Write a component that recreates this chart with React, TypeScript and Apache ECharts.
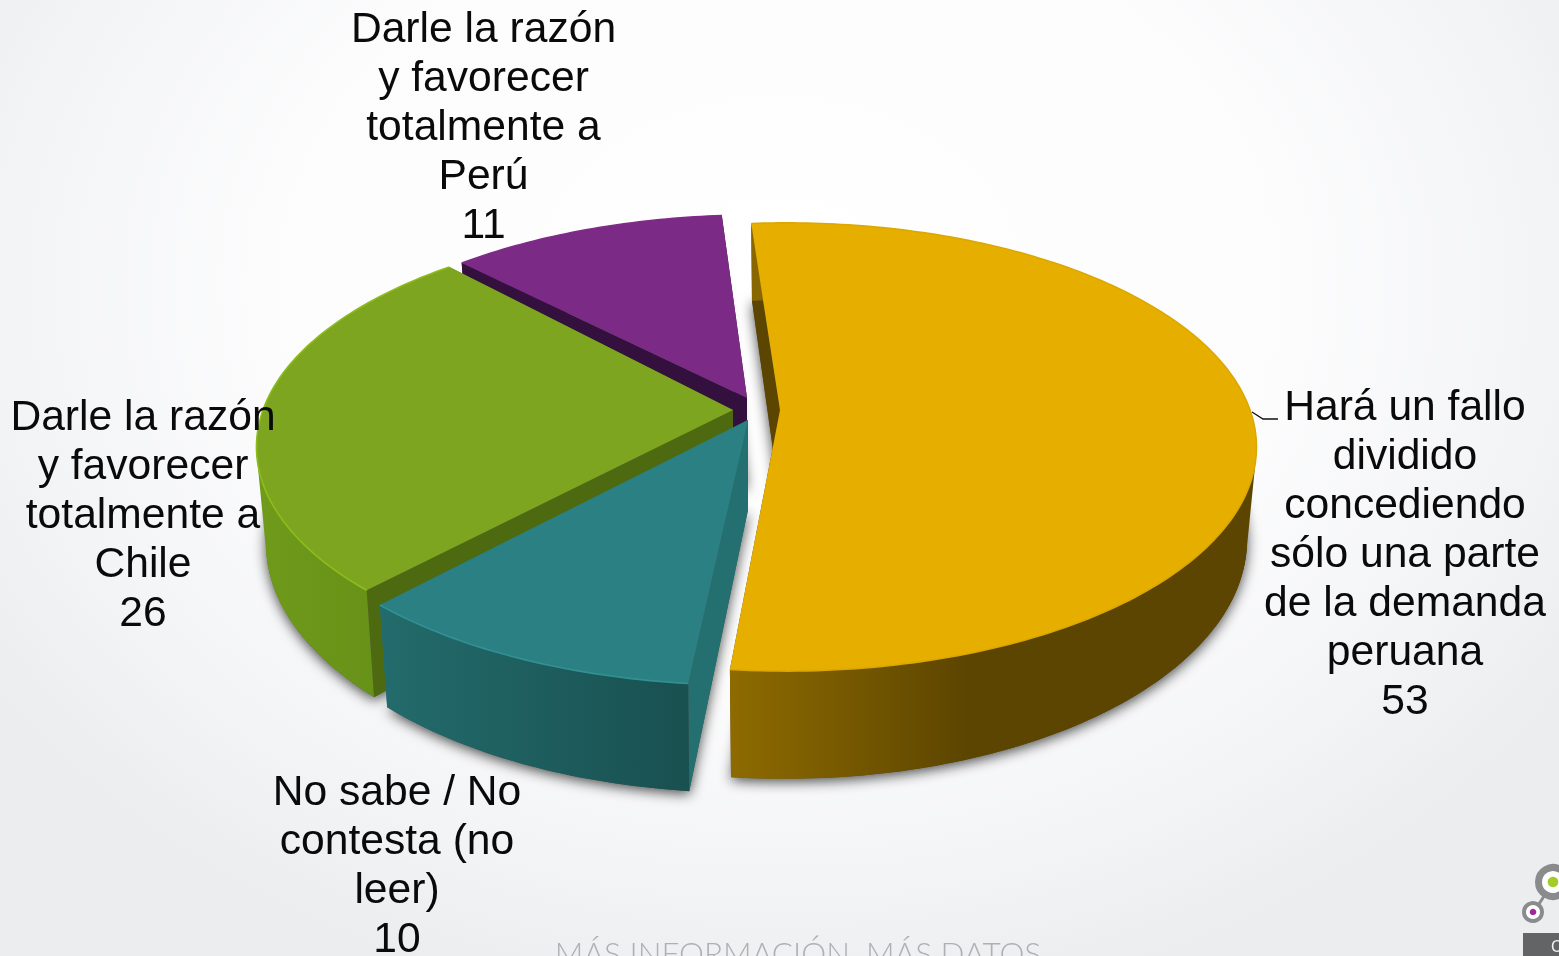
import React, { useEffect, useRef } from "react";
import * as echarts from "echarts";

const categories = [
  "Hará un fallo\ndividido\nconcediendo\nsólo una parte\nde la demanda\nperuana",
  "No sabe / No\ncontesta (no\nleer)",
  "Darle la razón\ny favorecer\ntotalmente a\nChile",
  "Darle la razón\ny favorecer\ntotalmente a\nPerú",
];
const values = [53, 10, 26, 11];
const topColors = ["#E6AF00", "#2A8082", "#7DA51F", "#7B2A85"];
const rimColors = ["#DCA800", "#329192", "#8CBD1C", "#7F2C89"];
const cutColors = ["#5C4500", "#246F70", "#4E6A10", "#33103E"];
const sideColors = ["#5C4500", "#236B6C", "#6F9A1A", "#33103E"];
const wallStops = [
  [[0, "#8E6B00"], [0.45, "#5C4500"], [1, "#5C4500"]],
  [[0, "#236B6C"], [1, "#195050"]],
  [[0, "#6F9A1A"], [1, "#628C17"]],
  [[0, "#33103E"], [1, "#33103E"]],
];
const apexX = [780, 748, 733, 747];
const apexY = [410, 420, 410, 398];
const arcX = [786, 745, 733, 757];
const arcY = [410, 424, 410, 402];
const radii = [464, 470, 470, 470];
const depths = [90, 90, 94, 90];
const startNudge = [0, 0, 1.5, 0];
const endNudge = [0, 1.3, 2, 0];
const labelX = [1405, 397, 143, 483.5];
const labelTop = [380, 765, 390, 2];
const drawOrder = [3, 2, 1, 0];

const START_DEG = -5;
const RY = 218;
const P = 0.165;
const BOTTOM_SCALE = 0.98;
const FONT = "'Liberation Sans', Arial, sans-serif";

const total = values.reduce((a, b) => a + b, 0);
const angleRange = (i: number): [number, number] => {
  let sum = 0;
  for (let k = 0; k < i; k++) sum += values[k];
  const a0 = START_DEG + (sum / total) * 360;
  return [a0 + startNudge[i], a0 + (values[i] / total) * 360 + endNudge[i]];
};

const project = (i: number, deg: number, bottom: boolean): number[] => {
  const t = (deg * Math.PI) / 180;
  const w = 1 + P * Math.cos(t);
  let sx = (radii[i] * Math.sin(t)) / w;
  let sy = (-RY * Math.cos(t)) / w;
  if (bottom) {
    sx *= BOTTOM_SCALE;
    sy += depths[i] / w;
  }
  return [arcX[i] + sx, arcY[i] + sy];
};
const apex = (i: number, bottom: boolean): number[] => [apexX[i], apexY[i] + (bottom ? depths[i] : 0)];
const arc = (i: number, a0: number, a1: number, bottom: boolean): number[][] => {
  const n = Math.max(1, Math.ceil(a1 - a0));
  const pts: number[][] = [];
  for (let k = 0; k <= n; k++) pts.push(project(i, a0 + ((a1 - a0) * k) / n, bottom));
  return pts;
};
const linear = (stops: any[]) => ({
  type: "linear",
  x: 0,
  y: 0,
  x2: 1,
  y2: 0,
  colorStops: stops.map(([offset, color]) => ({ offset, color })),
});

const hull = (input: number[][]): number[][] => {
  const pts = [...input].sort((a, b) => a[0] - b[0] || a[1] - b[1]);
  const cross = (o: number[], a: number[], b: number[]) =>
    (a[0] - o[0]) * (b[1] - o[1]) - (a[1] - o[1]) * (b[0] - o[0]);
  const half = (list: number[][]) => {
    const out: number[][] = [];
    for (const p of list) {
      while (out.length >= 2 && cross(out[out.length - 2], out[out.length - 1], p) <= 0) out.pop();
      out.push(p);
    }
    out.pop();
    return out;
  };
  return [...half(pts), ...half([...pts].reverse())];
};

// Smooth silhouette where the top rim runs into the lower rim at the far left and right of the disc.
const sideBridge = (i: number): number[][] | null => {
  const [a0, a1] = angleRange(i);
  for (const [lo, hi] of [[60, 120], [240, 300]]) {
    const from = Math.max(a0, lo);
    const to = Math.min(a1, hi);
    if (to > from) return hull([...arc(i, from, to, false), ...arc(i, from, to, true)]);
  }
  return null;
};

const wallPieces = (i: number): { points: number[][]; fill: any }[] => {
  const [a0, a1] = angleRange(i);
  const bridge = sideBridge(i);
  return [
    { points: [apex(i, false), project(i, a0, false), project(i, a0, true), apex(i, true)], fill: cutColors[i] },
    { points: [apex(i, false), project(i, a1, false), project(i, a1, true), apex(i, true)], fill: cutColors[i] },
    ...(bridge ? [{ points: bridge, fill: sideColors[i] }] : []),
    { points: [...arc(i, a0, a1, false), ...arc(i, a0, a1, true).reverse()], fill: linear(wallStops[i]) },
  ];
};

// The soft shadow comes from the lower face only, so the back rim stays clean.
const shadowItem = (params: any) => {
  const i = drawOrder[params.dataIndex];
  const [a0, a1] = angleRange(i);
  return {
    type: "polygon",
    silent: true,
    shape: { points: [apex(i, true), ...arc(i, a0, a1, true)] },
    style: { fill: "#555", shadowColor: "rgba(0,0,0,0.7)", shadowBlur: 13, shadowOffsetX: 0, shadowOffsetY: 3 },
  };
};

const sliceItem = (params: any) => {
  const i = drawOrder[params.dataIndex];
  const [a0, a1] = angleRange(i);
  const rim = arc(i, a0, a1, false);
  return {
    type: "group",
    children: [
      ...wallPieces(i).map((p) => ({
        type: "polygon",
        silent: true,
        shape: { points: p.points },
        style: { fill: p.fill },
      })),
      { type: "polygon", silent: true, shape: { points: [apex(i, false), ...rim] }, style: { fill: topColors[i] } },
      {
        type: "polyline",
        silent: true,
        shape: { points: rim },
        style: { stroke: rimColors[i], lineWidth: 1.6, fill: null },
      },
    ],
  };
};

const labelItem = (params: any) => {
  const i = params.dataIndex;
  return {
    type: "text",
    silent: true,
    style: {
      x: labelX[i],
      y: labelTop[i],
      text: `${categories[i]}\n${values[i]}`,
      fill: "#0a0a0a",
      font: `42.6px ${FONT}`,
      lineHeight: 49,
      align: "center",
      verticalAlign: "top",
    },
  };
};

export default function App() {
  const ref = useRef<HTMLDivElement>(null);
  useEffect(() => {
    document.body.style.margin = "0";
    const chart = echarts.init(ref.current!, null, { renderer: "svg" });
    const ids = values.map((v) => v);
    chart.setOption({
      animation: false,
      series: [
        { type: "custom", coordinateSystem: "none", renderItem: shadowItem, data: ids, silent: true },
        { type: "custom", coordinateSystem: "none", renderItem: sliceItem, data: ids, silent: true },
        { type: "custom", coordinateSystem: "none", renderItem: labelItem, data: ids, silent: true },
      ],
      graphic: [
        {
          type: "text",
          silent: true,
          style: {
            x: 798,
            y: 937,
            text: "MÁS INFORMACIÓN. MÁS DATOS",
            fill: "#aeb0b3",
            font: `300 31.5px Lato, sans-serif`,
            align: "center",
            verticalAlign: "top",
          },
        },
        { type: "line", silent: true, shape: { x1: 1539, y1: 904, x2: 1546, y2: 893 }, style: { stroke: "#8a8b8d", lineWidth: 3 } },
        { type: "circle", silent: true, shape: { cx: 1553, cy: 882, r: 14.5 }, style: { fill: "#fff", stroke: "#8a8b8d", lineWidth: 7 } },
        { type: "circle", silent: true, shape: { cx: 1553, cy: 882, r: 5.3 }, style: { fill: "#a4cc29" } },
        { type: "circle", silent: true, shape: { cx: 1533, cy: 912, r: 9 }, style: { fill: "#fff", stroke: "#8a8b8d", lineWidth: 4 } },
        { type: "circle", silent: true, shape: { cx: 1533, cy: 912, r: 3.3 }, style: { fill: "#a2279a" } },
        { type: "rect", silent: true, shape: { x: 1523, y: 933, width: 36, height: 23 }, style: { fill: "#636466" } },
        {
          type: "polyline",
          silent: true,
          shape: { points: [[1252, 412], [1263, 419], [1278, 419]] },
          style: { stroke: "#111", lineWidth: 1.3, fill: null },
        },
        {
          type: "text",
          silent: true,
          style: { x: 1551, y: 938, text: "C", fill: "#f2f2f2", font: `16px ${FONT}` },
        },
      ],
    });
    return () => chart.dispose();
  }, []);
  return (
    <div
      style={{
        position: "fixed",
        left: 0,
        top: 0,
        width: 1559,
        height: 956,
        background:
          "radial-gradient(ellipse 60% 76% at 50% 30%, #ffffff 0%, #fcfcfd 55%, #f3f4f6 82%, #ecedef 100%)",
      }}
    >
      <div ref={ref} style={{ width: 1559, height: 956 }} />
    </div>
  );
}
